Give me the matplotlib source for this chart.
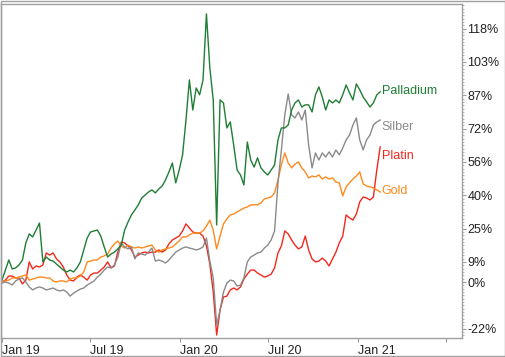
import matplotlib
matplotlib.use("Agg")
import matplotlib.pyplot as plt
import matplotlib.dates as mdates
import matplotlib.patches as mpatches
from matplotlib.ticker import FixedLocator, MultipleLocator
import pandas as pd

plt.rcParams['font.family'] = ['Liberation Sans', 'DejaVu Sans']

# weekly observations, cumulative change in %
dates = pd.date_range('2019-01-01', periods=112, freq='7D')

palladium = [0.9, 5.6, 10.3, 6.1, 6.6, 8.0, 10.3, 18.3, 22.5, 21.1, 24.3, 27.6, 9.4, 11.7, 10.3, 9.8,
             8.4, 7.0, 5.6, 4.7, 5.6, 4.7, 6.6, 9.4, 15.0, 20.6, 23.4, 23.9, 24.3, 21.5, 16.4, 11.7,
             13.1, 14.0, 15.5, 17.3, 24.3, 28.1, 31.4, 33.7, 36.1, 39.3, 40.7, 42.1, 43.1, 41.7,
             43.5, 44.9, 47.8, 51.5, 55.7, 46.4, 52.4, 59.5, 75.8, 94.6, 80.5, 90.8, 87.6, 94.6,
             125.5, 100.2, 85.2, 26.7, 85.2, 83.8, 72.1, 74.9, 64.1, 52.4, 50.1, 45.4, 65.5, 57.1,
             53.8, 58.1, 53.4, 51.5, 50.1, 52.4, 54.8, 66.5, 72.1, 72.1, 73.5, 80.5, 83.8, 85.2,
             81.9, 82.9, 82.9, 79.6, 87.6, 91.3, 86.6, 80.5, 85.2, 83.8, 85.2, 83.8, 87.6, 92.2,
             88.5, 85.2, 92.7, 89.9, 86.6, 84.3, 81.9, 83.8, 87.6, 89.0]

silber = [-0.5, 0.0, -0.5, -1.4, 0.5, 1.4, 1.9, 0.0, -2.3, -3.7, -2.8, -2.3, -2.8, -3.7, -3.3, -2.8,
          -3.7, -4.2, -3.7, -4.7, -6.6, -5.2, -4.2, -3.3, -2.8, -1.4, -0.5, 0.5, 2.3, 3.7, 5.6, 7.0,
          6.6, 8.0, 11.7, 18.3, 16.4, 15.5, 16.4, 10.8, 13.6, 13.1, 12.6, 14.0, 15.9, 9.8, 10.3,
          9.8, 8.9, 10.3, 12.2, 14.0, 15.0, 15.9, 16.4, 15.9, 15.5, 15.0, 15.5, 16.4, 20.6, 9.8,
          1.9, -20.1, -13.1, -4.7, -0.5, 0.9, 0.5, -1.9, -1.4, 1.9, 9.4, 11.7, 12.6, 13.6, 14.0,
          15.9, 17.3, 19.7, 23.9, 46.4, 61.8, 78.2, 88.0, 78.2, 76.8, 79.6, 75.8, 80.5, 64.1,
          53.4, 60.4, 57.1, 60.4, 58.5, 60.9, 58.5, 61.8, 59.5, 62.7, 66.5, 68.8, 73.5, 76.8,
          66.5, 61.8, 66.5, 68.8, 73.5, 74.9, 75.8]

platin = [0.0, 0.9, 2.8, 2.8, 1.9, 1.9, -0.9, 0.9, 9.4, 6.1, 7.5, 7.0, 8.0, 13.6, 12.6, 13.6,
          10.8, 9.4, 7.0, 3.3, 0.9, 0.5, 2.3, 3.3, 2.3, 0.9, 3.3, 4.2, 4.2, 5.6, 7.0, 9.4, 6.6,
          7.5, 14.0, 18.7, 18.3, 16.9, 15.0, 11.7, 12.6, 13.6, 14.0, 13.6, 14.0, 14.0, 15.0, 14.0,
          15.0, 17.8, 19.7, 20.6, 21.5, 23.9, 27.2, 25.3, 23.4, 22.9, 22.9, 21.5, 16.9, 8.4,
          -4.7, -24.8, -13.1, -7.0, -6.6, -3.7, -2.8, -3.7, -2.3, 1.4, 3.7, 5.6, 5.6, 4.2, 3.3,
          2.3, 2.8, 3.7, 6.6, 13.6, 16.9, 23.9, 22.5, 19.7, 17.3, 15.5, 16.4, 21.5, 15.0, 10.8,
          9.4, 9.8, 11.2, 9.8, 7.5, 10.8, 14.0, 18.3, 21.5, 31.4, 30.0, 29.0, 31.8, 37.5, 39.8,
          39.3, 38.4, 39.8, 52.4, 63.2]

gold = [0.0, 0.5, 0.9, 1.9, 1.9, 2.3, 2.8, 3.3, 0.9, 1.4, 1.9, 2.3, 2.3, 1.9, 1.9, 0.5, 0.0, 0.5,
        0.5, 0.0, 1.4, 1.9, 1.9, 2.8, 4.7, 9.4, 9.8, 10.3, 10.3, 11.7, 12.2, 13.1, 15.9, 17.8,
        19.2, 16.9, 15.9, 17.3, 16.4, 15.9, 16.4, 15.9, 16.4, 16.9, 17.3, 15.0, 14.0, 15.0, 15.5,
        15.9, 16.4, 17.8, 19.2, 21.1, 21.1, 22.0, 22.9, 22.9, 22.9, 23.9, 26.2, 29.0, 24.3, 15.5,
        21.5, 27.2, 29.5, 31.4, 31.8, 32.8, 33.7, 34.6, 35.1, 36.1, 36.1, 36.1, 37.0, 38.9, 39.3,
        39.8, 41.7, 47.8, 54.8, 60.4, 55.7, 53.4, 55.2, 56.2, 53.4, 51.5, 48.7, 49.6, 49.2, 50.1,
        48.2, 49.2, 48.2, 48.7, 46.8, 46.4, 40.3, 44.5, 46.4, 48.2, 49.6, 51.5, 45.9, 44.9, 44.5,
        44.0, 43.1, 42.1]

series_names = ['Platin', 'Gold', 'Silber', 'Palladium']
series_values = [platin, gold, silber, palladium]
series_colors = ['#f2281c', '#ff8a1e', '#8a8a8a', '#1f7d35']
label_offsets = [0, 0, 0, 2]  # percentage-point nudges for end labels

y_tick_values = [-21.8, 0.0, 9.4, 25.0, 40.6, 56.2, 71.8, 87.4, 103.0, 118.6]
y_tick_labels = ['-22%', '0%', '9%', '25%', '40%', '56%', '72%', '87%', '103%', '118%']
x_tick_dates = ['2019-01-01', '2019-07-01', '2020-01-01', '2020-07-01', '2021-01-01', '2021-07-01']
x_tick_labels = ['Jan 19', 'Jul 19', 'Jan 20', 'Jul 20', 'Jan 21', '']

fig = plt.figure(figsize=(5.06, 3.57), dpi=100)
ax = fig.add_axes([0.002, 0.0532, 0.911, 0.9356])

for name, vals, col in zip(series_names, series_values, series_colors):
    ax.plot(dates, vals, color=col, lw=1.0, solid_joinstyle='round')

end_labels = {'Palladium': 89.5, 'Silber': 72.5, 'Platin': 59.0, 'Gold': 42.5}
for name, col in zip(series_names, series_colors):
    ax.text(pd.Timestamp('2021-02-16') + pd.Timedelta(days=3), end_labels[name], name,
            color=col, fontsize=9, va='center', ha='left')

ax.set_xlim(pd.Timestamp('2018-12-30'), pd.Timestamp('2021-08-03'))
ax.set_ylim(-26.2, 130.1)

ax.yaxis.tick_right()
ax.yaxis.set_major_locator(FixedLocator(y_tick_values))
ax.set_yticklabels(y_tick_labels)
ax.yaxis.set_minor_locator(MultipleLocator(1.56))
ax.tick_params(axis='y', which='major', length=3, width=0.8, color='#999999', labelsize=9,
               labelcolor='#222222', pad=1)
ax.tick_params(axis='y', which='minor', length=1.5, width=0.6, color='#aaaaaa')

ax.set_xticks([pd.Timestamp(d) for d in x_tick_dates])
ax.set_xticklabels(x_tick_labels, ha='left')
ax.tick_params(axis='x', which='major', length=3, width=0.8, color='#999999', labelsize=9,
               labelcolor='#222222', pad=2)

for s in ax.spines.values():
    s.set_color('#a0a0a0')
    s.set_linewidth(1.0)

fig.patches.append(mpatches.Rectangle((0.001, 0.0015), 0.997, 0.995, transform=fig.transFigure,
                                      fill=False, edgecolor='#a0a0a0', lw=1.0))

fig.savefig('out.png', dpi=100)
